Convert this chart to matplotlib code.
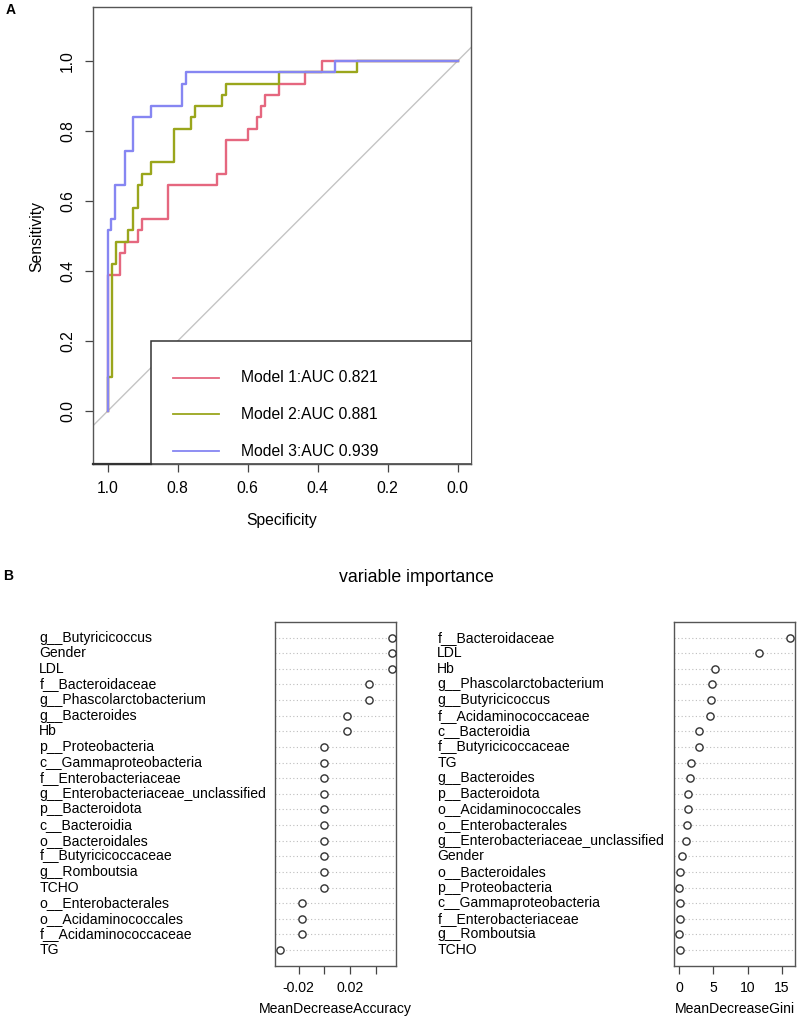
import matplotlib
matplotlib.use("Agg")
import matplotlib.pyplot as plt
from matplotlib.patches import Rectangle

plt.rcParams['font.family'] = ['Liberation Sans', 'DejaVu Sans']

# ---------------- data ----------------
# ROC step vertices (specificity, sensitivity)
m1_spec = [1.0, 1.0, 0.965, 0.952, 0.914, 0.901, 0.827, 0.689, 0.663, 0.600, 0.574, 0.562, 0.550, 0.512, 0.436, 0.387, 0.0]
m1_sens = [0.0, 0.387, 0.452, 0.484, 0.516, 0.548, 0.645, 0.677, 0.774, 0.806, 0.839, 0.871, 0.903, 0.935, 0.968, 1.0, 1.0]
m2_spec = [1.0, 1.0, 0.989, 0.976, 0.941, 0.929, 0.914, 0.901, 0.876, 0.812, 0.763, 0.750, 0.674, 0.663, 0.512, 0.289, 0.0]
m2_sens = [0.0, 0.097, 0.419, 0.484, 0.516, 0.581, 0.645, 0.677, 0.710, 0.806, 0.839, 0.871, 0.903, 0.935, 0.968, 1.0, 1.0]
m3_spec = [1.0, 1.0, 0.990, 0.979, 0.952, 0.927, 0.876, 0.789, 0.777, 0.350, 0.0]
m3_sens = [0.0, 0.516, 0.548, 0.645, 0.742, 0.839, 0.871, 0.935, 0.968, 1.0, 1.0]
model_labels = ["Model 1:AUC 0.821", "Model 2:AUC 0.881", "Model 3:AUC 0.939"]
roc_ticks = [1.0, 0.8, 0.6, 0.4, 0.2, 0.0]

acc_names = ["g__Butyricicoccus", "Gender", "LDL", "f__Bacteroidaceae", "g__Phascolarctobacterium",
             "g__Bacteroides", "Hb", "p__Proteobacteria", "c__Gammaproteobacteria", "f__Enterobacteriaceae",
             "g__Enterobacteriaceae_unclassified", "p__Bacteroidota", "c__Bacteroidia", "o__Bacteroidales",
             "f__Butyricicoccaceae", "g__Romboutsia", "TCHO", "o__Enterobacterales", "o__Acidaminococcales",
             "f__Acidaminococcaceae", "TG"]
acc_vals = [0.0524, 0.0524, 0.0524, 0.0348, 0.0348, 0.0174, 0.0174, 0.0, 0.0, 0.0, 0.0, 0.0, 0.0, 0.0,
            0.0, 0.0, 0.0, -0.0172, -0.0172, -0.0172, -0.0346]
gini_names = ["f__Bacteroidaceae", "LDL", "Hb", "g__Phascolarctobacterium", "g__Butyricicoccus",
              "f__Acidaminococcaceae", "c__Bacteroidia", "f__Butyricicoccaceae", "TG", "g__Bacteroides",
              "p__Bacteroidota", "o__Acidaminococcales", "o__Enterobacterales",
              "g__Enterobacteriaceae_unclassified", "Gender", "o__Bacteroidales", "p__Proteobacteria",
              "c__Gammaproteobacteria", "f__Enterobacteriaceae", "g__Romboutsia", "TCHO"]
gini_vals = [16.2, 11.7, 5.2, 4.85, 4.65, 4.45, 2.95, 2.85, 1.75, 1.5, 1.3, 1.25, 1.1, 1.05, 0.4,
             0.15, 0.0, 0.04, 0.04, 0.02, 0.03]

colors = ["#E5677F", "#9AA61C", "#8686F2"]

W, H = 800, 1021
fig = plt.figure(figsize=(W / 100, H / 100), dpi=100)


def px_axes(x0, y0, x1, y1):
    return fig.add_axes([x0 / W, 1 - y1 / H, (x1 - x0) / W, (y1 - y0) / H])


def ftext(x, y, s, **kw):
    fig.text(x / W, 1 - y / H, s, **kw)


FS = 11.3
FS2 = 10.1

# ---------------- panel A: ROC ----------------
ax = px_axes(92.7, 7.3, 471, 463.7)
ax.set_xlim(1.043, -0.038)
ax.set_ylim(-0.1506, 1.153)
ax.axline((1, 0), (0, 1), color="#C4C4C4", lw=1.0, zorder=1)
for sp, se, c in zip([m1_spec, m2_spec, m3_spec], [m1_sens, m2_sens, m3_sens], colors):
    ax.plot(sp, se, drawstyle="steps-post", color=c, lw=1.7, zorder=3)
for s in ax.spines.values():
    s.set_color("#555555")
    s.set_linewidth(1.0)
ax.set_xticks(roc_ticks)
ax.set_xticklabels([f"{t:.1f}" for t in roc_ticks], fontsize=FS)
ax.set_yticks(roc_ticks[::-1])
ax.set_yticklabels([f"{t:.1f}" for t in roc_ticks[::-1]], fontsize=FS, rotation=90, va="center")
ax.tick_params(length=5.8, width=0.9, color="#444444", pad=7)
# legend box
ax.add_patch(Rectangle((0.877, -0.1506), -0.877 - 0.05, 0.2 + 0.1506, facecolor="white",
                       edgecolor="#333333", lw=1.1, zorder=4, clip_on=True))
ax.plot([1.043, 0.877], [-0.1506, -0.1506], color="#333333", lw=1.6, zorder=5, clip_on=False)
for i, (lab, c) in enumerate(zip(model_labels, colors)):
    yy = [0.095, -0.0094, -0.115][i]
    ax.plot([0.813, 0.682], [yy, yy], color=c, lw=1.3, zorder=6)
    ax.text(0.619, yy, lab, fontsize=FS, ha="left", va="center", zorder=6)
ftext(37, 236, "Sensitivity", fontsize=FS, rotation=90, ha="center", va="center")
ftext(282, 521, "Specificity", fontsize=FS, ha="center", va="center")
ftext(11, 10, "A", fontsize=10, fontweight="bold", ha="center", va="center")

# ---------------- panel B ----------------
ftext(8, 576, "B", fontsize=10, fontweight="bold", ha="center", va="center")
ftext(416, 577, "variable importance", fontsize=12.8, ha="center", va="center")


def dotchart(x0, x1, names, vals, xlim, ticks, ticklabels, xlabel, label_x):
    a = px_axes(x0, 622, x1, 965.7)
    n = len(names)
    ys = [n - i for i in range(n)]
    a.set_xlim(*xlim)
    a.set_ylim(0, n + 1)
    for y in ys:
        a.axhline(y, color="#BDBDBD", lw=0.8, ls=(0, (1, 2.2)), zorder=1)
    a.plot(vals, ys, ls="none", marker="o", ms=5.2, mfc="white", mec="#333333", mew=1.0, zorder=3,
           clip_on=False)
    for s in a.spines.values():
        s.set_color("#555555")
        s.set_linewidth(1.0)
    a.set_yticks([])
    a.set_xticks(ticks)
    a.set_xticklabels(ticklabels, fontsize=FS2)
    a.tick_params(axis="x", length=5.8, width=0.9, color="#444444", pad=5)
    for nm, y in zip(names, ys):
        yp = 965.7 - y * (965.7 - 622) / (n + 1)
        ftext(label_x, yp, nm, fontsize=FS2, ha="left", va="center")
    ftext((x0 + x1) / 2, 1009, xlabel, fontsize=FS2, ha="center", va="center")


dotchart(275.3, 396.3, acc_names, acc_vals, (-0.0381, 0.0560), [-0.02, 0.0, 0.02, 0.04],
         ["-0.02", "", "0.02", ""], "MeanDecreaseAccuracy", 39.3)
dotchart(674.3, 795, gini_names, gini_vals, (-0.733, 16.96), [0, 5, 10, 15],
         ["0", "5", "10", "15"], "MeanDecreaseGini", 437.3)

fig.savefig("out.png", dpi=100, facecolor="white")
